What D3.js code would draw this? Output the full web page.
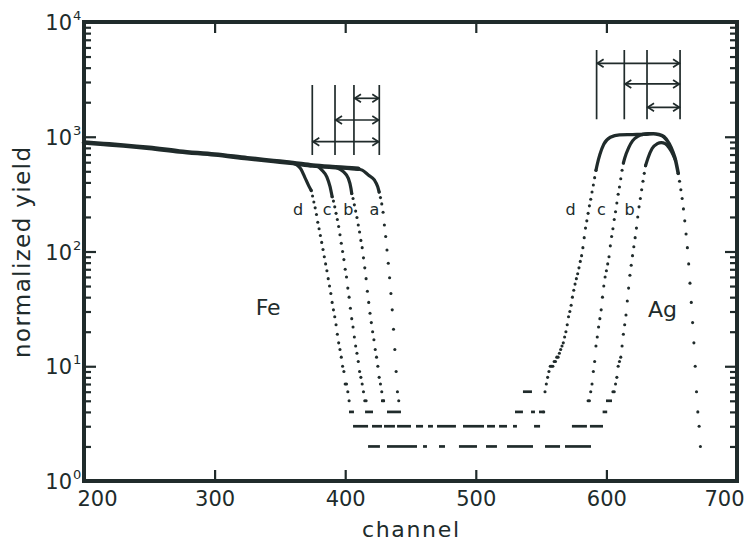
<!DOCTYPE html>
<html><head><meta charset="utf-8">
<script src="https://cdn.jsdelivr.net/npm/d3@7"></script>
<style>body{margin:0;background:#fff} svg{display:block;font-family:"DejaVu Sans",sans-serif}</style>
</head><body><svg id="chart" width="744" height="543"></svg>
<script>
// ---------- axes data ----------
const xDomain = [200, 700];
const yDomain = [1, 10000];
const xTicks = [200, 300, 400, 500, 600, 700];
const yExponents = [0, 1, 2, 3, 4];
const yMinorMult = [2, 3, 4, 5, 6, 7, 8, 9];

// ---------- Fe edge (solid parts: [channel, yield]) ----------
const feShared = [[200,890],[215,865],[230,840],[250,800],[273,745],[300,700],[325,650],[345,615],[360,590],[375,562],[390,545],[405,532],[410,526]];
const feLineD = [[356,597],[360,588],[363,568],[366,525],[369,445],[372,375],[374,340]];
const feLineC = [[375,562],[379,550],[382,515],[386,445],[388.4,367],[390,300]];
const feLineB = [[390,545],[394,535],[398.6,496],[402.4,434],[404.4,355],[405,320]];
const feLineA = [[408,528],[413,512],[417.7,464],[422.3,420],[424.9,367],[426,330]];
// dotted parts: one value per channel from the start channel
const feDotsDStart = 374;
const feDotsD = [340,305,270,240,210,180,158,138,120,104,90,78,68,58,50,43,36,31,27,23,19,16,14,12,10,9,7,7,6,5];
const feDotsCStart = 390;
const feDotsC = [300,275,245,215,190,165,140,118,100,85,70,60,48,40,32,26,22,18,15,13,11,9,8,7,6,5,5];
const feDotsBStart = 405;
const feDotsB = [320,290,255,225,198,170,148,125,108,88,72,58,45,36,29,24,20,17,14,12,10,8,7,6,5];
const feDotsAStart = 426;
const feDotsA = [330,295,260,220,170,135,103,79,59,43,31,21,14,9,6,5];

// ---------- Ag edge ----------
const agLineD = [[592,510],[593,575],[595,700],[598,860],[603,990],[610,1040],[620,1045],[628,1050]];
const agLineC = [[613,590],[614,650],[617,800],[620,920],[624,1005],[628,1045],[632,1060]];
const agLineTop = [[628,1050],[632,1060],[636,1062],[640,1045],[644,1000],[648,870],[651,730],[653,620],[655,480]];
const agLineB = [[630,560],[632,660],[635,790],[639,870],[642,890],[645,870],[648,800],[651,700],[653,620]];
const agDotsDStart = 552;
const agDotsD = [4,6,7,8,9,10,10,10,11,11,12,12,13,14,15,16,18,20,23,27,30,34,40,46,52,58,64,72,82,92,108,132,160,185,215,250,285,330,380,440,510];
const agDotsCStart = 586;
const agDotsC = [5,5,6,7,9,11,15,18,22,26,31,40,50,60,68,78,90,112,135,158,190,222,265,315,365,430,510,590];
const agDotsBStart = 605;
const agDotsB = [6,6,7,8,10,11,12,15,19,23,28,37,48,62,76,92,110,132,160,200,245,290,345,410,480,560];
const agFallStart = 655;
const agFall = [480,410,345,290,235,185,142,108,78,53,36,24,16,10,6,4,3,2];

// ---------- background floor runs: [fromChannel, toChannel, yield] ----------
const floorRuns = [
  [417.5,426.6,2],[432,455,2],[459.6,462.6,2],[471.8,476.4,2],[487.1,500.9,2],[507.8,516.2,2],[523.9,543.8,2],[553,564.5,2],[568.3,588.2,2],
  [406,417.5,3],[420.5,428.2,3],[429.7,438.1,3],[439.7,450.4,3],[454.2,459.6,3],[463.4,467.2,3],[470.3,484.8,3],[490.2,506.3,3],[508.6,514.7,3],[517.8,523.9,3],[528.5,531.5,3],[544.6,549.2,3],[573.6,585.1,3],[587.4,597.4,3],
  [402.9,406.7,4],[415.2,421.3,4],[432,442.7,4],[530,536.1,4],[542.3,545.3,4],[548.4,551.5,4],[597.1,600.6,4],
  [427.4,430.5,5],[599.7,604.3,5],
  [536.1,543,6]
];

// ---------- markers (vertical lines + double arrows) ----------
const feMarkers = [374.8, 392.2, 406.7, 426.1];
const feMarkerRange = [693, 2825];
const feArrowLevels = [905, 1400, 2163];   // arrow from marker i to last marker
const agMarkers = [592.5, 613.7, 631.1, 656.4];
const agMarkerRange = [1420, 5700];
const agArrowLevels = [4365, 2884, 1805];

// ---------- labels ----------
const feCurveLabels = [["d",363.9],["c",386.1],["b",402.4],["a",422.3]];
const agCurveLabels = [["d",572.5],["c",596.2],["b",617.7]];
const curveLabelYield = 208;
const elementLabels = [["Fe",341,28],["Ag",643,27]];

// ================= drawing =================
const ink = "#202b2b";
const svg = d3.select("#chart");
const x = d3.scaleLinear().domain(xDomain).range([84, 737]);
const y = d3.scaleLog().domain(yDomain).range([481, 22]);
const g = svg.append("g");

// floor runs
g.selectAll("line.floor").data(floorRuns).join("line")
  .attr("class","floor")
  .attr("x1", d => x(d[0])).attr("x2", d => x(d[1]))
  .attr("y1", d => y(d[2])).attr("y2", d => y(d[2]))
  .attr("stroke", ink).attr("stroke-width", 2.7);

// solid parts
const line = d3.line().x(d => x(d[0])).y(d => y(d[1])).curve(d3.curveMonotoneX);
[[feShared,4.6],[feLineD,3.2],[feLineC,3.2],[feLineB,3.2],[feLineA,3.2],
 [agLineD,3.2],[agLineC,3.2],[agLineTop,3.6],[agLineB,3.2]].forEach(([data,w]) => {
  g.append("path").attr("d", line(data)).attr("fill","none")
   .attr("stroke", ink).attr("stroke-width", w).attr("stroke-linecap","round");
});

// dotted parts
function toPoints(start, vals){ return vals.map((v,i) => [start + i, v]); }
const dotSets = [
  toPoints(feDotsDStart, feDotsD), toPoints(feDotsCStart, feDotsC),
  toPoints(feDotsBStart, feDotsB), toPoints(feDotsAStart, feDotsA),
  toPoints(agDotsDStart, agDotsD), toPoints(agDotsCStart, agDotsC),
  toPoints(agDotsBStart, agDotsB), toPoints(agFallStart, agFall)
];
dotSets.forEach(pts => {
  g.append("g").selectAll("circle").data(pts).join("circle")
    .attr("cx", d => x(d[0])).attr("cy", d => y(d[1])).attr("r", 1.55).attr("fill", ink);
});

// markers
function drawMarkers(chs, range, levels){
  const mg = g.append("g").attr("stroke", ink).attr("stroke-width", 1.7).attr("fill","none");
  chs.forEach(c => mg.append("line").attr("x1", x(c)).attr("x2", x(c)).attr("y1", y(range[0])).attr("y2", y(range[1])));
  const right = x(chs[chs.length-1]);
  levels.forEach((lv, i) => {
    const left = x(chs[i]), yy = y(lv);
    mg.append("line").attr("x1", left).attr("x2", right).attr("y1", yy).attr("y2", yy);
    mg.append("path").attr("d", `M${left+7},${yy-4}L${left+0.8},${yy}L${left+7},${yy+4}`);
    mg.append("path").attr("d", `M${right-7},${yy-4}L${right-0.8},${yy}L${right-7},${yy+4}`);
  });
}
drawMarkers(feMarkers, feMarkerRange, feArrowLevels);
drawMarkers(agMarkers, agMarkerRange, agArrowLevels);

// curve labels
g.selectAll("text.cl").data(feCurveLabels.concat(agCurveLabels)).join("text")
  .attr("class","cl").attr("x", d => x(d[1])).attr("y", y(curveLabelYield))
  .attr("text-anchor","middle").attr("font-size", 16).attr("fill", ink).text(d => d[0]);
g.selectAll("text.el").data(elementLabels).join("text")
  .attr("class","el").attr("x", d => x(d[1])).attr("y", d => y(d[2]))
  .attr("text-anchor","middle").attr("font-size", 22).attr("fill", ink).text(d => d[0]);

// ---------- axes ----------
const ax = svg.append("g");
const majors = yExponents.map(e => Math.pow(10, e));
const minors = [];
yExponents.slice(0, -1).forEach(e => yMinorMult.forEach(m => minors.push(m * Math.pow(10, e))));

function styleAxis(sel){
  sel.select(".domain").remove();
  sel.selectAll(".tick line").attr("stroke", ink).attr("stroke-width", 2.2);
}
ax.append("g").attr("transform","translate(84,0)")
  .call(d3.axisLeft(y).tickValues(majors).tickSize(-12).tickFormat("")).call(styleAxis);
ax.append("g").attr("transform","translate(84,0)")
  .call(d3.axisLeft(y).tickValues(minors).tickSize(-7).tickFormat("")).call(styleAxis);
ax.append("g").attr("transform","translate(737,0)")
  .call(d3.axisRight(y).tickValues(majors).tickSize(-12).tickFormat("")).call(styleAxis);
ax.append("g").attr("transform","translate(737,0)")
  .call(d3.axisRight(y).tickValues(minors).tickSize(-7).tickFormat("")).call(styleAxis);
ax.append("g").attr("transform","translate(0,22)")
  .call(d3.axisTop(x).tickValues(xTicks.slice(1,-1)).tickSize(-11).tickFormat("")).call(styleAxis);
const bx = ax.append("g").attr("transform","translate(0,481)")
  .call(d3.axisBottom(x).tickValues(xTicks).tickSize(-11).tickPadding(10).tickFormat(d3.format("d")))
  .call(styleAxis);
bx.selectAll(".tick text").attr("font-size", 21).attr("fill", ink)
  .attr("font-family","DejaVu Sans, sans-serif");
bx.selectAll(".tick").filter(d => d === xTicks[0]).select("text").attr("dx", 13);
bx.selectAll(".tick").filter(d => d === xTicks[xTicks.length-1]).select("text").attr("dx", -13);
bx.selectAll(".tick").filter(d => d === xTicks[0] || d === xTicks[xTicks.length-1]).select("line").remove();

// y tick labels 10^n
const yl = ax.append("g").attr("fill", ink);
yExponents.forEach(e => {
  const yy = y(Math.pow(10, e));
  yl.append("text").attr("x", 72).attr("y", yy + 8).attr("text-anchor","end")
    .attr("font-size", 21).text("10");
  yl.append("text").attr("x", 73).attr("y", yy - 2).attr("text-anchor","start")
    .attr("font-size", 13).text(String(e));
});

// frame
ax.append("rect").attr("x", 84).attr("y", 22).attr("width", 653).attr("height", 459)
  .attr("fill","none").attr("stroke", ink).attr("stroke-width", 4);

// axis titles
ax.append("text").attr("x", 410.5).attr("y", 537).attr("text-anchor","middle")
  .attr("font-size", 22).attr("fill", ink).attr("textLength", 97).attr("lengthAdjust","spacing").text("channel");
ax.append("text").attr("transform","translate(30,252.5) rotate(-90)").attr("text-anchor","middle")
  .attr("font-size", 23).attr("fill", ink).attr("textLength", 211).attr("lengthAdjust","spacing").text("normalized yield");
</script>
</body></html>
